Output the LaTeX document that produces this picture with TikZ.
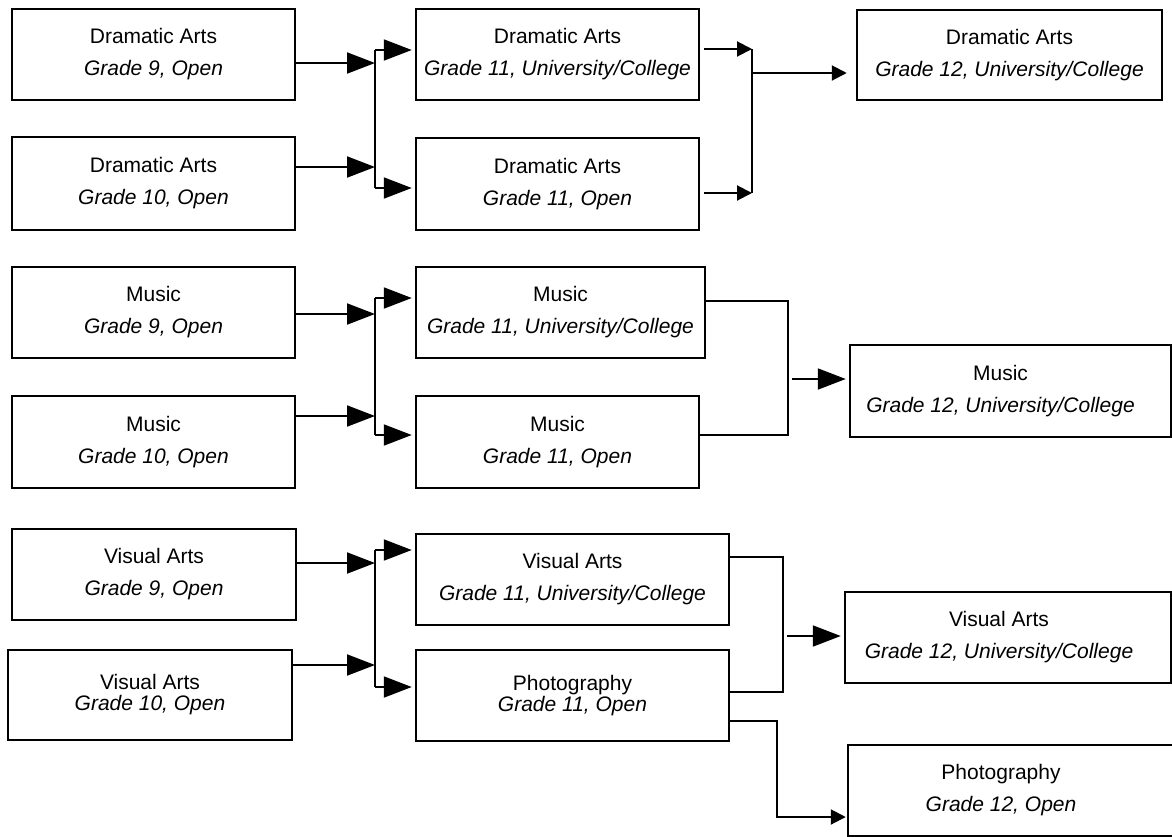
\documentclass[tikz,border=0pt]{standalone}
\usepackage{fontspec}
\setmainfont{Liberation Sans}
\usetikzlibrary{arrows.meta}

\tikzset{
  course/.style={draw, line width=2.5pt, rectangle, align=center, inner sep=0pt,
    font=\fontsize{21}{32}\selectfont},
  tight/.style={course, font=\fontsize{21}{21}\selectfont},
  link/.style={line width=2pt},
  bigarrow/.style={link, -{Triangle[length=28pt,width=21pt]}},
  smallarrow/.style={link, -{Triangle[length=15pt,width=15pt]}}
}

\begin{document}
\begin{tikzpicture}[x=1pt,y=-1pt]
			\useasboundingbox (0,0) rectangle (1172,836);

			% Grade 9 and 10 courses
			\node[course, minimum width=283pt, minimum height=91pt] (DA9) at (153.5,54.5) {Dramatic Arts\\\textit{Grade 9, Open}};
			\node[course, minimum width=283pt, minimum height=93pt] (DA10) at (153.5,183.5) {Dramatic Arts\\\textit{Grade 10, Open}};
			\node[course, minimum width=283pt, minimum height=91pt] (M9) at (153.5,312.5) {Music\\\textit{Grade 9, Open}};
			\node[course, minimum width=283pt, minimum height=92pt] (M10) at (153.5,442) {Music\\\textit{Grade 10, Open}};
			\node[course, minimum width=284pt, minimum height=91pt] (VA9) at (154,574.5) {Visual Arts\\\textit{Grade 9, Open}};
			\node[tight, minimum width=284pt, minimum height=90pt] (VA10) at (150,695) {Visual Arts\\\textit{Grade 10, Open}};

			% Grade 11 courses
			\node[course, minimum width=283pt, minimum height=91pt] (DA11U) at (557.5,54.5) {Dramatic Arts\\\textit{Grade 11, University/College}};
			\node[course, minimum width=283pt, minimum height=92pt] (DA11O) at (557.5,184) {Dramatic Arts\\\textit{Grade 11, Open}};
			\node[course, minimum width=289pt, minimum height=91pt] (M11U) at (560.5,312.5) {Music\\\textit{Grade 11, University/College}};
			\node[course, minimum width=283pt, minimum height=92pt] (M11O) at (557.5,442) {Music\\\textit{Grade 11, Open}};
			\node[course, minimum width=313pt, minimum height=91pt] (VA11U) at (572.5,579.5) {Visual Arts\\\textit{Grade 11, University/College}};
			\node[tight, minimum width=313pt, minimum height=91pt] (P11) at (572.5,695.5) {Photography\\\textit{Grade 11, Open}};

			% Grade 12 courses
			\node[course, minimum width=305pt, minimum height=90pt] (DA12) at (1009.5,55) {Dramatic Arts\\\textit{Grade 12, University/College}};
			\node[course, minimum width=321pt, minimum height=92pt] (M12) at (1010.5,391) {Music\hspace*{20pt}\\\textit{Grade 12, University/College}\hspace*{20pt}};
			\node[course, minimum width=326pt, minimum height=91pt] (VA12) at (1008,637.5) {Visual Arts\hspace*{18pt}\\\textit{Grade 12, University/College}\hspace*{18pt}};
			\node[course, minimum width=332pt, minimum height=91pt] (P12) at (1014,790.5) {Photography\hspace*{26pt}\\\textit{Grade 12, Open}\hspace*{26pt}};

			% Junction points
			\coordinate (daIn1) at (375,63);
			\coordinate (daIn2) at (375,167);
			\coordinate (daT) at (375,50);
			\coordinate (daB) at (375,188);
			\coordinate (daR1) at (752,49);
			\coordinate (daR2) at (752,193);
			\coordinate (daOut) at (752,73);

			\coordinate (mIn1) at (375,314);
			\coordinate (mIn2) at (375,416);
			\coordinate (mT) at (375,298);
			\coordinate (mB) at (375,435);
			\coordinate (mR1) at (788,301);
			\coordinate (mR2) at (788,435);
			\coordinate (mOut) at (788,379);

			\coordinate (vaIn1) at (375,563);
			\coordinate (vaIn2) at (375,665);
			\coordinate (vaT) at (375,550);
			\coordinate (vaB) at (375,687);
			\coordinate (vaR1) at (783,557);
			\coordinate (vaR2) at (783,692);
			\coordinate (vaOut) at (783,636);
			\coordinate (pBend) at (777,721);
			\coordinate (pDown) at (777,817);

			% Dramatic Arts links
			\draw[link] (daT) -- (daB);
			\draw[bigarrow] (DA9.east |- daIn1) -- (daIn1);
			\draw[bigarrow] (DA10.east |- daIn2) -- (daIn2);
			\draw[bigarrow, shorten >=3pt] (daT) -- (DA11U.west |- daT);
			\draw[bigarrow, shorten >=3pt] (daB) -- (DA11O.west |- daB);
			\draw[link] (daR1) -- (daR2);
			\draw[smallarrow, shorten <=4pt] (DA11U.east |- daR1) -- (daR1);
			\draw[smallarrow, shorten <=4pt] (DA11O.east |- daR2) -- (daR2);
			\draw[smallarrow, shorten >=9pt] (daOut) -- (DA12.west |- daOut);

			% Music links
			\draw[link] (mT) -- (mB);
			\draw[bigarrow] (M9.east |- mIn1) -- (mIn1);
			\draw[bigarrow] (M10.east |- mIn2) -- (mIn2);
			\draw[bigarrow, shorten >=3pt] (mT) -- (M11U.west |- mT);
			\draw[bigarrow, shorten >=3pt] (mB) -- (M11O.west |- mB);
			\draw[link] (M11U.east |- mR1) -- (mR1) -- (mR2) -- (M11O.east |- mR2);
			\draw[bigarrow, shorten <=4pt, shorten >=3pt] (mOut) -- (M12.west |- mOut);

			% Visual Arts links
			\draw[link] (vaT) -- (vaB);
			\draw[bigarrow] (VA9.east |- vaIn1) -- (vaIn1);
			\draw[bigarrow] (VA10.east |- vaIn2) -- (vaIn2);
			\draw[bigarrow, shorten >=3pt] (vaT) -- (VA11U.west |- vaT);
			\draw[bigarrow, shorten >=3pt] (vaB) -- (P11.west |- vaB);
			\draw[link] (VA11U.east |- vaR1) -- (vaR1) -- (vaR2) -- (P11.east |- vaR2);
			\draw[bigarrow, shorten <=4pt, shorten >=3pt] (vaOut) -- (VA12.west |- vaOut);
			\draw[smallarrow, shorten >=1pt] (P11.east |- pBend) -- (pBend) -- (pDown) -- (P12.west |- pDown);

		\end{tikzpicture}
\end{document}
